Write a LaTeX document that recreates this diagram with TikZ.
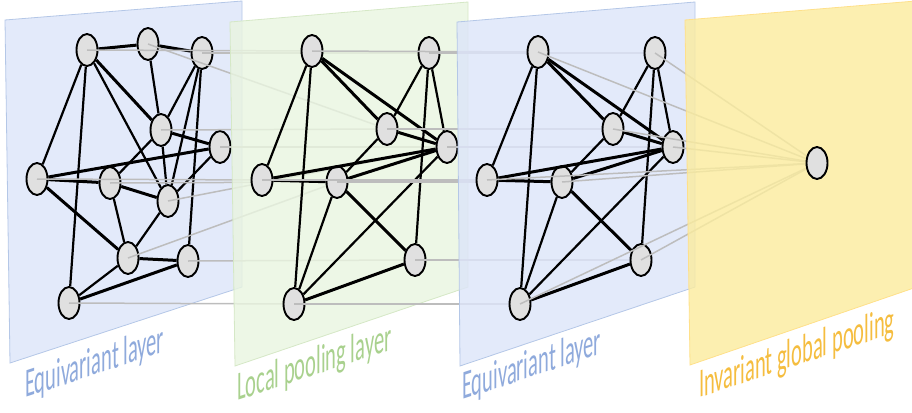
\documentclass[tikz,border=0pt]{standalone}
\usepackage{fontspec}
\setmainfont{Carlito}
\usetikzlibrary{shapes.geometric}
\definecolor{pblue}{HTML}{DDE5F9}
\definecolor{bbord}{HTML}{B4C7E7}
\definecolor{pgreen}{HTML}{E9F5E0}
\definecolor{gbord}{HTML}{D5E8C6}
\definecolor{pyellow}{HTML}{FBEC9F}
\definecolor{ybord}{HTML}{FFE08A}
\definecolor{nodegray}{HTML}{E0E0E0}
\definecolor{linkgray}{HTML}{BDBDBD}
\definecolor{tblue}{HTML}{8FAADC}
\definecolor{tgreen}{HTML}{A9D18E}
\definecolor{tgold}{HTML}{F5BD3F}
\begin{document}
\begin{tikzpicture}[x=1pt,y=-1pt,
  gnode/.style={ellipse, draw=black, line width=1.9pt, fill=nodegray,
    minimum width=21pt, minimum height=32pt, inner sep=0pt},
  edge/.style={line width=2.2pt, black},
  thk/.style={line width=3pt},
  link/.style={draw=linkgray, line width=1.5pt},
  panel/.style={fill opacity=0.82, line width=0.8pt},
  lbl/.style={font=\fontsize{41}{44}\selectfont, inner sep=0pt, anchor=base west,
    text depth=0pt, cm={0.5,0.166,0,1,(0,0)}, transform shape}]
\useasboundingbox (0,0) rectangle (912,412);
\clip (0,0) rectangle (912,412);
% ---- coordinates
% panel 1
\coordinate (pA) at (87,50);  \coordinate (pB) at (148,44);
\coordinate (pC) at (202,53); \coordinate (pD) at (161,130);
\coordinate (pE) at (220,147);\coordinate (pF) at (37,179);
\coordinate (pG) at (110,183);\coordinate (pH) at (168,201);
\coordinate (pI) at (128,258);\coordinate (pJ) at (188,261);
\coordinate (pK) at (69,303);
% panel 2
\coordinate (qa) at (312,51); \coordinate (qb) at (429,53);
\coordinate (qc) at (387,129);\coordinate (qd) at (447,147);
\coordinate (qe) at (262,180);\coordinate (qf) at (337,182);
\coordinate (qg) at (415,260);\coordinate (qh) at (294,304);
% panel 3
\coordinate (ra) at (538,52); \coordinate (rb) at (655,53);
\coordinate (rc) at (613,129);\coordinate (rd) at (673,147);
\coordinate (re) at (487,180);\coordinate (rf) at (562,182);
\coordinate (rg) at (641,260);\coordinate (rh) at (520,304);
% panel 4
\coordinate (sz) at (817,163);

% ---- panel 1
\draw[panel, draw=bbord, fill=pblue] (5,20) -- (242,1) -- (242,287) -- (10,363) -- cycle;
\foreach \n in {A,B,C,D,E,F,G,H,I,J,K} {\node[gnode] (\n) at (p\n) {};}
\draw[edge,thk] (A) -- (B);
\draw[edge,thk] (B) -- (C);
\draw[edge] (A) -- (F);
\draw[edge] (A) -- (K);
\draw[edge,thk] (A) -- (D);
\draw[edge] (A) -- (H);
\draw[edge] (B) -- (D);
\draw[edge] (C) -- (D);
\draw[edge] (C) -- (H);
\draw[edge] (C) -- (J);
\draw[edge,thk] (D) -- (E);
\draw[edge] (D) -- (G);
\draw[edge] (D) -- (H);
\draw[edge,thk] (E) -- (F);
\draw[edge] (E) -- (H);
\draw[edge,thk] (F) -- (G);
\draw[edge,thk] (F) -- (I);
\draw[edge,thk] (G) -- (H);
\draw[edge] (G) -- (I);
\draw[edge] (H) -- (I);
\draw[edge,thk] (I) -- (J);
\draw[edge] (I) -- (K);
\draw[edge,thk] (J) -- (K);
% links 1 -> 2
\draw[link] (A.center) -- (qa);
\draw[link] (B.center) -- (qc);
\draw[link] (C.center) -- (qb);
\draw[link] (D.center) -- (qc);
\draw[link] (E.center) -- (qd);
\draw[link] (F.center) -- (qe);
\draw[link] (G.center) -- (qf);
\draw[link] (H.center) -- (qd);
\draw[link] (I.center) -- (qf);
\draw[link] (J.center) -- (qg);
\draw[link] (K.center) -- (qh);

% ---- panel 2
\draw[panel, draw=gbord, fill=pgreen] (230,22) -- (468,2) -- (468,287) -- (235,366) -- cycle;
\foreach \n in {a,b,c,d,e,f,g,h} {\node[gnode] (2\n) at (q\n) {};}
\draw[edge] (2a) -- (2e);
\draw[edge] (2a) -- (2h);
\draw[edge,thk] (2a) -- (2c);
\draw[edge,thk] (2a) -- (2d);
\draw[edge] (2b) -- (2c);
\draw[edge] (2b) -- (2d);
\draw[edge] (2b) -- (2g);
\draw[edge,thk] (2c) -- (2d);
\draw[edge] (2c) -- (2f);
\draw[edge,thk] (2e) -- (2d);
\draw[edge,thk] (2e) -- (2f);
\draw[edge,thk] (2f) -- (2d);
\draw[edge,thk] (2f) -- (2g);
\draw[edge] (2f) -- (2h);
\draw[edge] (2h) -- (2d);
\draw[edge,thk] (2h) -- (2g);
% links 2 -> 3
\foreach \n in {a,b,c,d,e,f,g,h} {\draw[link] (2\n.center) -- (r\n);}

% ---- panel 3
\draw[panel, draw=bbord, fill=pblue] (457,22) -- (695,2) -- (695,287) -- (460,366) -- cycle;
\foreach \n in {a,b,c,d,e,f,g,h} {\node[gnode] (3\n) at (r\n) {};}
\draw[edge] (3a) -- (3e);
\draw[edge] (3a) -- (3h);
\draw[edge,thk] (3a) -- (3c);
\draw[edge,thk] (3a) -- (3d);
\draw[edge] (3b) -- (3c);
\draw[edge] (3b) -- (3d);
\draw[edge] (3b) -- (3g);
\draw[edge,thk] (3c) -- (3d);
\draw[edge] (3c) -- (3f);
\draw[edge,thk] (3e) -- (3d);
\draw[edge,thk] (3e) -- (3f);
\draw[edge,thk] (3f) -- (3d);
\draw[edge,thk] (3f) -- (3g);
\draw[edge] (3f) -- (3h);
\draw[edge] (3h) -- (3d);
\draw[edge,thk] (3h) -- (3g);
% links 3 -> 4
\foreach \n in {a,b,c,d,e,f,g,h} {\draw[link] (3\n.center) -- (sz);}

% ---- panel 4
\draw[panel, draw=ybord, fill=pyellow] (685,20) -- (940,-1) -- (940,279) -- (690,365) -- cycle;
\node[gnode] (Z) at (sz) {};

% ---- labels
\begin{scope}[shift={(25,398)}]
  \node[lbl, text=tblue] (L1) at (0,0) {Equivariant layer};
\end{scope}
\begin{scope}[shift={(237,401)}]
  \node[lbl, text=tgreen] (L2) at (0,0) {Local pooling layer};
\end{scope}
\begin{scope}[shift={(462,400)}]
  \node[lbl, text=tblue] (L3) at (0,0) {Equivariant layer};
\end{scope}
\begin{scope}[shift={(699,398)}]
  \node[lbl, text=tgold] (L4) at (0,0) {Invariant global pooling};
\end{scope}
\end{tikzpicture}
\end{document}
